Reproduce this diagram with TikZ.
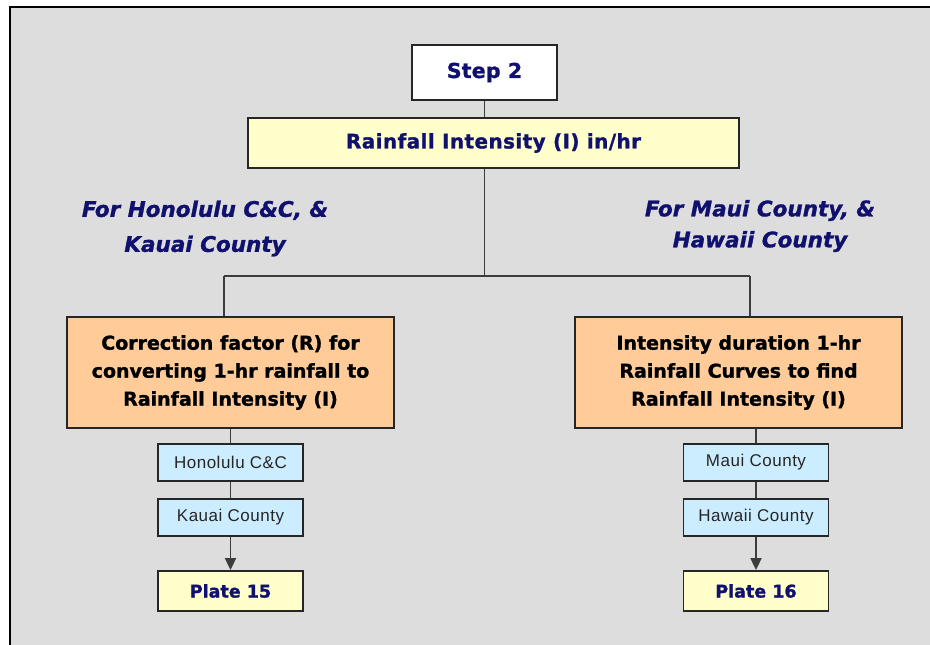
\documentclass[tikz,border=0pt]{standalone}
\usepackage{fontspec}
\setmainfont{DejaVu Sans}
\newfontfamily\fstep[LetterSpace=1,FakeBold=1.2]{DejaVu Sans}
\newfontfamily\frain[LetterSpace=2,FakeBold=1.2]{DejaVu Sans}
\newfontfamily\fital[FakeBold=1.2]{DejaVu Sans}
\newfontfamily\forange[FakeBold=1.4]{DejaVu Sans}
\newfontfamily\fplate[FakeBold=1.4]{DejaVu Sans}
\newfontfamily\fsmall[LetterSpace=3]{Liberation Sans}
\usetikzlibrary{arrows.meta}
\definecolor{bggray}{RGB}{221,221,221}
\definecolor{boxyellow}{RGB}{255,255,204}
\definecolor{boxorange}{RGB}{255,204,153}
\definecolor{boxblue}{RGB}{204,236,255}
\definecolor{navy}{RGB}{16,16,110}
\definecolor{linegray}{RGB}{60,60,60}
\tikzset{
  box/.style={draw=black!85, line width=1.8pt, inner sep=0pt, align=center},
  stepbox/.style={box, fill=white, minimum width=145pt, minimum height=55pt,
    text=navy, font=\fstep\bfseries\fontsize{20.5}{24}\selectfont},
  rainbox/.style={box, fill=boxyellow, minimum width=491pt, minimum height=50pt,
    text=navy, font=\frain\bfseries\fontsize{20}{24}\selectfont},
  orangebox/.style={box, fill=boxorange, minimum width=327pt, minimum height=111pt,
    text=black, font=\forange\bfseries\fontsize{19}{28}\selectfont},
  smallbox/.style={box, fill=boxblue, minimum width=145pt, minimum height=37pt,
    text=black!85, font=\fsmall\fontsize{17}{20}\selectfont},
  platebox/.style={box, fill=boxyellow, minimum width=145pt, minimum height=40pt,
    text=navy, font=\fplate\bfseries\fontsize{17.5}{20}\selectfont},
  label/.style={align=center, text=navy, inner sep=0pt},
  conn/.style={draw=linegray, line width=1.8pt},
  arr/.style={conn, -{Triangle[width=11pt,length=12pt]}}
}
\begin{document}
\begin{tikzpicture}[x=1pt,y=-1pt]
\useasboundingbox (0,0) rectangle (930,645);
\fill[white] (0,0) rectangle (930,645);
\fill[bggray] (10,7) rectangle (930,645);
\draw[black, line width=1.6pt] (10,645) -- (10,7) -- (930,7);

\node[stepbox] (step) at (484.5,72.5) {Step 2};
\node[rainbox] (rain) at (493.5,143) {Rainfall Intensity (I) in/hr};

\node[label, font=\fital\bfseries\itshape\fontsize{21.5}{35}\selectfont] (llab) at (205,228.5)
  {For Honolulu C\&C, \&\\Kauai County};
\node[label, font=\fital\bfseries\itshape\fontsize{21.5}{31}\selectfont] (rlab) at (760,226)
  {For Maui County, \&\\Hawaii County};

\node[orangebox] (lor) at (230.5,372.5)
  {Correction factor (R) for\\converting 1-hr rainfall to\\Rainfall Intensity (I)};
\node[orangebox] (ror) at (738.5,372.5)
  {Intensity duration 1-hr\\Rainfall Curves to find\\Rainfall Intensity (I)};

\node[smallbox] (hon) at (230.5,462.5) {Honolulu C\&C};
\node[smallbox] (kau) at (230.5,517.5) {Kauai County};
\node[platebox] (p15) at (230.5,591) {Plate 15};

\node[smallbox] (mau) at (756,462.5) {Maui County};
\node[smallbox] (haw) at (756,517.5) {Hawaii County};
\node[platebox] (p16) at (756,591) {Plate 16};

\coordinate (jc) at (484.5,276);
\coordinate (jl) at (224,276);
\coordinate (jr) at (750,276);

\draw[conn] (step.south) -- (step.south |- rain.north);
\draw[conn] (jc |- rain.south) -- (jc);
\draw[conn] (jl) -- (jr);
\draw[conn] (jl) -- (jl |- lor.north);
\draw[conn] (jr) -- (jr |- ror.north);

\draw[conn] (hon.north |- lor.south) -- (hon.north);
\draw[conn] (hon) -- (kau);
\draw[arr] (kau) -- (p15);

\draw[conn] (mau.north |- ror.south) -- (mau.north);
\draw[conn] (mau) -- (haw);
\draw[arr] (haw) -- (p16);
\end{tikzpicture}
\end{document}
